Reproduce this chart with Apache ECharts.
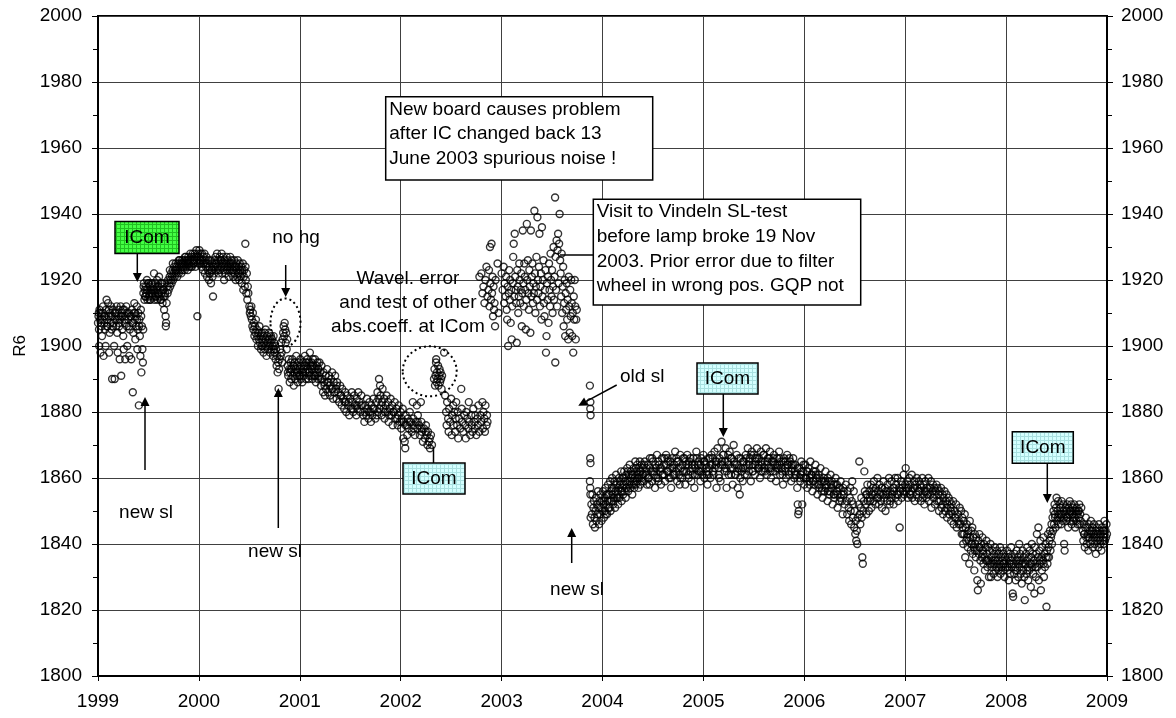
<!DOCTYPE html>
<html>
<head>
<meta charset="utf-8">
<script src="https://cdn.jsdelivr.net/npm/echarts@6/dist/echarts.min.js"></script>
<style>
html, body { margin: 0; padding: 0; background: #fff; }
#chart { width: 1176px; height: 718px; }
</style>
</head>
<body>
<div id="chart"></div>
<script>
// R6 readings, [decimal year, value] flattened, one array per period
var r6_1999a = [1999.00,1907, 1999.005,1909, 1999.01,1905, 1999.012,1900, 1999.015,1911, 1999.02,1908, 1999.025,1898, 1999.03,1910, 1999.035,1906, 1999.04,1903, 1999.045,1908, 1999.05,1912, 1999.055,1897, 1999.06,1909, 1999.065,1907, 1999.07,1905, 1999.075,1900, 1999.08,1911, 1999.085,1914, 1999.09,1908, 1999.095,1906, 1999.10,1913, 1999.105,1909, 1999.11,1898, 1999.115,1904, 1999.12,1910, 1999.125,1907, 1999.13,1912, 1999.135,1905, 1999.14,1890, 1999.145,1909, 1999.15,1911, 1999.155,1907, 1999.16,1900, 1999.165,1890, 1999.17,1908, 1999.175,1910, 1999.18,1906, 1999.185,1912, 1999.19,1904, 1999.195,1898, 1999.20,1909, 1999.205,1911, 1999.21,1906, 1999.215,1896, 1999.22,1908, 1999.225,1912, 1999.23,1891, 1999.235,1910, 1999.24,1905, 1999.245,1909, 1999.25,1903, 1999.255,1899, 1999.26,1911, 1999.265,1907, 1999.27,1896, 1999.275,1909, 1999.28,1912, 1999.285,1906, 1999.29,1900, 1999.30,1908, 1999.305,1910, 1999.31,1897, 1999.315,1905, 1999.32,1909, 1999.33,1896, 1999.335,1911, 1999.34,1907, 1999.345,1886, 1999.35,1904, 1999.355,1910, 1999.36,1913, 1999.365,1908, 1999.37,1902, 1999.375,1909, 1999.38,1906, 1999.385,1912, 1999.39,1899, 1999.395,1905, 1999.40,1910, 1999.405,1882, 1999.41,1908, 1999.415,1903, 1999.42,1897, 1999.425,1911, 1999.43,1892, 1999.435,1906, 1999.44,1899, 1999.445,1895,
  1999.008,1910, 1999.028,1907, 1999.048,1910, 1999.068,1909, 1999.088,1906, 1999.108,1911, 1999.128,1909, 1999.148,1906, 1999.168,1910, 1999.188,1908, 1999.208,1907, 1999.228,1909, 1999.248,1911, 1999.268,1908, 1999.288,1910, 1999.308,1906, 1999.328,1909, 1999.348,1907, 1999.368,1910, 1999.388,1908, 1999.408,1906, 1999.428,1909, 1999.448,1905];
var r6_1999b = [1999.45,1916, 1999.455,1919, 1999.46,1914, 1999.465,1917, 1999.47,1915, 1999.475,1918, 1999.48,1916, 1999.485,1920, 1999.49,1914, 1999.495,1917, 1999.50,1919, 1999.505,1915, 1999.51,1916, 1999.515,1918, 1999.52,1914, 1999.525,1917, 1999.53,1919, 1999.535,1916, 1999.54,1915, 1999.545,1918, 1999.55,1917, 1999.555,1922, 1999.56,1914, 1999.565,1916, 1999.57,1919, 1999.575,1915, 1999.58,1917, 1999.585,1920, 1999.59,1914, 1999.595,1916, 1999.60,1918, 1999.605,1921, 1999.61,1915, 1999.615,1917, 1999.62,1919, 1999.625,1914, 1999.63,1916, 1999.635,1918, 1999.64,1913, 1999.645,1917, 1999.65,1915, 1999.655,1911, 1999.66,1919, 1999.665,1916, 1999.67,1909, 1999.672,1906, 1999.675,1907, 1999.68,1913,
  1999.452,1918, 1999.468,1915, 1999.482,1917, 1999.498,1919, 1999.512,1914, 1999.528,1916, 1999.542,1919, 1999.558,1917, 1999.572,1915, 1999.588,1918, 1999.602,1916, 1999.618,1914, 1999.632,1919, 1999.648,1917, 1999.662,1915];
var r6_1999c = [1999.685,1918, 1999.69,1916, 1999.695,1920, 1999.70,1917, 1999.705,1919, 1999.71,1921, 1999.715,1918, 1999.72,1920, 1999.725,1922, 1999.73,1919, 1999.735,1921, 1999.74,1923, 1999.745,1920, 1999.75,1922, 1999.755,1924, 1999.76,1921, 1999.765,1923, 1999.77,1925, 1999.775,1922, 1999.78,1924, 1999.785,1921, 1999.79,1923, 1999.795,1925, 1999.80,1922, 1999.805,1924, 1999.81,1926, 1999.815,1923, 1999.82,1925, 1999.825,1922, 1999.83,1924, 1999.835,1926, 1999.84,1923, 1999.845,1925, 1999.85,1924, 1999.855,1926, 1999.86,1923, 1999.865,1925, 1999.87,1927, 1999.875,1924, 1999.88,1926, 1999.885,1925, 1999.89,1923, 1999.895,1927, 1999.90,1925, 1999.905,1924, 1999.91,1926, 1999.915,1928, 1999.92,1925, 1999.925,1927, 1999.93,1924, 1999.935,1926, 1999.94,1928, 1999.945,1925, 1999.95,1927, 1999.955,1926, 1999.96,1928, 1999.965,1924, 1999.97,1927, 1999.975,1929, 1999.98,1926, 1999.985,1909, 1999.99,1928, 1999.995,1925,
  1999.712,1923, 1999.742,1925, 1999.772,1923, 1999.802,1926, 1999.832,1925, 1999.862,1927, 1999.892,1926, 1999.922,1924, 1999.952,1925, 1999.982,1927];
var r6_2000a = [2000.00,1927, 2000.005,1929, 2000.01,1925, 2000.015,1928, 2000.02,1926, 2000.025,1924, 2000.03,1928, 2000.035,1926, 2000.04,1923, 2000.045,1927, 2000.05,1925, 2000.055,1928, 2000.06,1922, 2000.065,1926, 2000.07,1924, 2000.075,1927, 2000.08,1921, 2000.085,1925, 2000.09,1923, 2000.095,1926, 2000.10,1920, 2000.105,1924, 2000.11,1922, 2000.115,1926, 2000.12,1919, 2000.125,1923, 2000.13,1925, 2000.135,1921, 2000.14,1915, 2000.145,1924, 2000.15,1922, 2000.155,1926, 2000.16,1924, 2000.165,1927, 2000.17,1923, 2000.175,1925, 2000.18,1928, 2000.185,1924, 2000.19,1926, 2000.195,1922, 2000.20,1925, 2000.205,1927, 2000.21,1923, 2000.215,1926, 2000.22,1924, 2000.225,1928, 2000.23,1922, 2000.235,1925, 2000.24,1927, 2000.245,1923, 2000.25,1920, 2000.255,1926, 2000.26,1924, 2000.265,1922, 2000.27,1925, 2000.275,1927, 2000.28,1923, 2000.285,1926, 2000.29,1924, 2000.295,1921, 2000.30,1925, 2000.305,1923, 2000.31,1927, 2000.315,1924, 2000.32,1922, 2000.325,1926, 2000.33,1923, 2000.335,1925, 2000.34,1921, 2000.345,1924, 2000.35,1926, 2000.355,1922, 2000.36,1924, 2000.365,1920, 2000.37,1925, 2000.375,1923, 2000.38,1921, 2000.385,1926, 2000.39,1922, 2000.395,1924, 2000.40,1920, 2000.405,1925, 2000.41,1923, 2000.415,1921, 2000.42,1924, 2000.425,1919, 2000.43,1922, 2000.435,1925, 2000.44,1917, 2000.445,1921, 2000.45,1923, 2000.455,1918, 2000.46,1931, 2000.465,1920, 2000.47,1916, 2000.475,1922, 2000.48,1914, 2000.485,1918, 2000.49,1916,
  2000.012,1926, 2000.042,1925, 2000.072,1925, 2000.102,1922, 2000.132,1923, 2000.162,1925, 2000.192,1923, 2000.222,1926, 2000.252,1925, 2000.282,1924, 2000.312,1925, 2000.342,1923, 2000.372,1924, 2000.402,1922, 2000.432,1923, 2000.462,1924];
var r6_2000b = [2000.50,1912, 2000.505,1910, 2000.51,1911, 2000.515,1909, 2000.52,1912, 2000.525,1908, 2000.53,1906, 2000.535,1910, 2000.54,1905, 2000.545,1907, 2000.55,1903, 2000.555,1906, 2000.56,1904, 2000.565,1908, 2000.57,1902, 2000.575,1905, 2000.58,1903, 2000.585,1900, 2000.59,1904, 2000.595,1902, 2000.60,1906, 2000.605,1901, 2000.61,1903, 2000.615,1899, 2000.62,1904, 2000.625,1902, 2000.63,1900, 2000.635,1903, 2000.64,1898, 2000.645,1901, 2000.65,1904, 2000.655,1899, 2000.66,1902, 2000.665,1900, 2000.67,1897, 2000.675,1903, 2000.68,1901, 2000.685,1899, 2000.69,1902, 2000.695,1904, 2000.70,1900, 2000.705,1898, 2000.71,1901, 2000.715,1903, 2000.72,1899, 2000.725,1902, 2000.73,1900, 2000.735,1897, 2000.74,1903, 2000.745,1901, 2000.75,1898, 2000.755,1900, 2000.76,1896, 2000.765,1899, 2000.77,1894, 2000.775,1897, 2000.78,1892, 2000.785,1895, 2000.79,1887, 2000.795,1893, 2000.80,1896, 2000.805,1899, 2000.81,1897, 2000.815,1901, 2000.82,1898, 2000.825,1895, 2000.83,1902, 2000.835,1904, 2000.84,1906, 2000.845,1903, 2000.85,1907, 2000.855,1905, 2000.86,1901, 2000.865,1904, 2000.87,1899, 2000.875,1902,
  2000.622,1900, 2000.662,1905, 2000.702,1902, 2000.742,1899];
var r6_2001a = [2000.88,1894, 2000.885,1891, 2000.89,1896, 2000.895,1893, 2000.90,1889, 2000.905,1892, 2000.91,1895, 2000.915,1890, 2000.92,1893, 2000.925,1896, 2000.93,1891, 2000.935,1894, 2000.94,1888, 2000.945,1892, 2000.95,1895, 2000.955,1890, 2000.96,1893, 2000.965,1897, 2000.97,1891, 2000.975,1894, 2000.98,1889, 2000.985,1892, 2000.99,1895, 2000.995,1891, 2001.00,1893, 2001.005,1896, 2001.01,1890, 2001.015,1894, 2001.02,1892, 2001.025,1889, 2001.03,1895, 2001.035,1893, 2001.04,1891, 2001.045,1894, 2001.05,1897, 2001.055,1892, 2001.06,1890, 2001.065,1894, 2001.07,1892, 2001.075,1896, 2001.08,1893, 2001.085,1890, 2001.09,1895, 2001.095,1892, 2001.10,1898, 2001.105,1894, 2001.11,1891, 2001.115,1895, 2001.12,1893, 2001.125,1890, 2001.13,1896, 2001.135,1894, 2001.14,1891, 2001.145,1893, 2001.15,1896, 2001.155,1892, 2001.16,1889, 2001.165,1894, 2001.17,1892, 2001.175,1895, 2001.18,1890, 2001.185,1893, 2001.19,1891, 2001.195,1895,
  2000.882,1892, 2000.912,1893, 2000.942,1894, 2000.972,1892, 2001.002,1891, 2001.032,1892, 2001.062,1895, 2001.092,1891, 2001.122,1894, 2001.152,1891, 2001.182,1893];
var r6_2001b = [2001.20,1892, 2001.21,1888, 2001.215,1894, 2001.22,1890, 2001.23,1886, 2001.235,1892, 2001.24,1889, 2001.25,1885, 2001.255,1891, 2001.26,1887, 2001.27,1893, 2001.275,1889, 2001.28,1886, 2001.29,1891, 2001.295,1888, 2001.30,1885, 2001.31,1890, 2001.315,1887, 2001.32,1892, 2001.33,1884, 2001.335,1889, 2001.34,1886, 2001.35,1891, 2001.36,1887, 2001.365,1884, 2001.37,1889, 2001.38,1886, 2001.39,1883, 2001.40,1888, 2001.41,1885, 2001.415,1882, 2001.42,1887, 2001.43,1884, 2001.44,1881, 2001.45,1886, 2001.455,1883, 2001.46,1880, 2001.47,1885, 2001.48,1882, 2001.49,1879, 2001.50,1884, 2001.51,1881, 2001.515,1886, 2001.52,1883, 2001.53,1880, 2001.54,1885, 2001.55,1882, 2001.56,1879, 2001.565,1884, 2001.57,1881, 2001.58,1886, 2001.59,1883, 2001.60,1880, 2001.61,1885, 2001.62,1882, 2001.63,1879, 2001.64,1877, 2001.65,1882, 2001.66,1879, 2001.665,1884, 2001.67,1881, 2001.68,1878, 2001.69,1883, 2001.70,1880, 2001.705,1877, 2001.71,1882, 2001.72,1879, 2001.73,1884, 2001.74,1881, 2001.75,1878, 2001.76,1883, 2001.77,1886, 2001.775,1880, 2001.78,1884, 2001.785,1890, 2001.79,1881, 2001.795,1888, 2001.80,1885, 2001.81,1879, 2001.815,1883, 2001.82,1887, 2001.83,1881, 2001.835,1884, 2001.84,1878, 2001.85,1882, 2001.86,1885, 2001.87,1880, 2001.875,1883, 2001.88,1877, 2001.89,1881, 2001.90,1884, 2001.91,1879, 2001.915,1882, 2001.92,1876, 2001.93,1880, 2001.94,1883, 2001.95,1878, 2001.96,1881, 2001.97,1876, 2001.975,1879, 2001.98,1882, 2001.99,1877,
  2001.205,1890, 2001.245,1888, 2001.285,1889, 2001.325,1887, 2001.365,1888, 2001.405,1885, 2001.445,1883, 2001.485,1883, 2001.525,1881, 2001.565,1882, 2001.605,1882, 2001.645,1880, 2001.685,1880, 2001.725,1881, 2001.765,1879, 2001.805,1882, 2001.845,1880, 2001.885,1879, 2001.925,1880, 2001.965,1878];
var r6_2002a = [2002.00,1880, 2002.005,1875, 2002.01,1878, 2002.02,1881, 2002.025,1872, 2002.03,1877, 2002.04,1871, 2002.045,1869, 2002.05,1879, 2002.06,1876, 2002.065,1873, 2002.07,1878, 2002.08,1875, 2002.09,1880, 2002.10,1877, 2002.11,1874, 2002.12,1883, 2002.125,1878, 2002.13,1876, 2002.14,1873, 2002.15,1877, 2002.16,1882, 2002.165,1875, 2002.17,1879, 2002.18,1876, 2002.19,1873, 2002.20,1883, 2002.205,1877, 2002.21,1874, 2002.22,1871, 2002.23,1875, 2002.24,1872, 2002.25,1876, 2002.26,1873, 2002.265,1870, 2002.27,1874, 2002.28,1871, 2002.29,1869, 2002.30,1873, 2002.31,1870,
  2002.008,1877, 2002.048,1876, 2002.088,1877, 2002.128,1875, 2002.168,1877, 2002.208,1875, 2002.248,1874, 2002.288,1872];
var r6_2002b = [2002.33,1890, 2002.335,1893, 2002.34,1888, 2002.345,1891, 2002.35,1895, 2002.355,1889, 2002.36,1892, 2002.365,1890, 2002.37,1894, 2002.375,1888, 2002.38,1891, 2002.385,1893, 2002.39,1889, 2002.395,1892, 2002.40,1890, 2002.405,1887, 2002.41,1891, 2002.352,1896, 2002.43,1898];
var r6_2002c = [2002.44,1885, 2002.45,1880, 2002.455,1876, 2002.46,1883, 2002.47,1878, 2002.475,1874, 2002.48,1881, 2002.49,1877, 2002.50,1884, 2002.505,1873, 2002.51,1879, 2002.52,1882, 2002.525,1876, 2002.53,1880, 2002.54,1874, 2002.545,1878, 2002.55,1883, 2002.56,1876, 2002.565,1880, 2002.57,1872, 2002.58,1878, 2002.59,1875, 2002.60,1887, 2002.605,1881, 2002.61,1877, 2002.62,1874, 2002.63,1879, 2002.64,1876, 2002.645,1872, 2002.65,1880, 2002.66,1878, 2002.67,1875, 2002.675,1883, 2002.68,1877, 2002.69,1873, 2002.70,1879, 2002.705,1876, 2002.71,1874, 2002.72,1881, 2002.73,1877, 2002.735,1875, 2002.74,1879, 2002.75,1873, 2002.76,1878, 2002.765,1876, 2002.77,1882, 2002.78,1874, 2002.79,1879, 2002.80,1877, 2002.81,1883, 2002.815,1875, 2002.82,1880, 2002.83,1878, 2002.835,1874, 2002.84,1882, 2002.85,1876, 2002.855,1879, 2002.86,1877];
var r6_2003a = [2002.78,1921, 2002.80,1922, 2002.81,1916, 2002.82,1918, 2002.83,1913, 2002.84,1920, 2002.85,1924, 2002.86,1915, 2002.87,1917, 2002.875,1923, 2002.88,1912, 2002.885,1930, 2002.89,1919, 2002.895,1914, 2002.90,1931, 2002.905,1916, 2002.91,1921, 2002.915,1909, 2002.92,1918, 2002.925,1911, 2002.93,1913, 2002.935,1906, 2002.94,1920, 2002.96,1925, 2002.97,1910, 2003.00,1922, 2003.01,1917, 2003.02,1924, 2003.025,1913, 2003.03,1919, 2003.04,1915, 2003.045,1921, 2003.05,1911, 2003.055,1908, 2003.06,1918, 2003.065,1900, 2003.07,1916, 2003.075,1923, 2003.08,1914, 2003.085,1920, 2003.09,1907, 2003.095,1917, 2003.10,1902, 2003.105,1912, 2003.11,1919, 2003.115,1927, 2003.12,1931, 2003.125,1915, 2003.13,1934, 2003.135,1921, 2003.14,1917, 2003.145,1913, 2003.15,1901, 2003.155,1923, 2003.16,1918, 2003.165,1910, 2003.17,1915, 2003.175,1925, 2003.18,1920, 2003.185,1913, 2003.19,1917, 2003.195,1922, 2003.20,1906, 2003.205,1916, 2003.21,1935, 2003.215,1919, 2003.22,1912, 2003.225,1925, 2003.23,1921, 2003.235,1917, 2003.24,1905, 2003.245,1914, 2003.25,1937, 2003.255,1920, 2003.26,1926, 2003.265,1916, 2003.27,1911, 2003.275,1923, 2003.28,1918, 2003.285,1904, 2003.29,1935, 2003.295,1915, 2003.30,1921, 2003.305,1925, 2003.31,1913, 2003.315,1919, 2003.32,1916, 2003.325,1941, 2003.33,1922, 2003.335,1910, 2003.34,1918, 2003.345,1927, 2003.35,1914, 2003.355,1939, 2003.36,1920, 2003.365,1916, 2003.37,1924, 2003.375,1934, 2003.38,1912, 2003.385,1918, 2003.39,1922, 2003.395,1908, 2003.40,1936, 2003.405,1915, 2003.41,1920, 2003.415,1926, 2003.42,1913, 2003.425,1909, 2003.43,1917, 2003.435,1923, 2003.44,1898, 2003.445,1903, 2003.45,1919, 2003.455,1914, 2003.46,1921, 2003.465,1907, 2003.47,1925, 2003.475,1917, 2003.48,1912, 2003.485,1928, 2003.49,1920, 2003.495,1915, 2003.50,1923, 2003.505,1910, 2003.51,1918, 2003.515,1930, 2003.52,1914, 2003.525,1921, 2003.53,1945, 2003.532,1895, 2003.535,1927, 2003.54,1917, 2003.545,1932, 2003.55,1912, 2003.555,1929, 2003.56,1934, 2003.565,1919, 2003.57,1931, 2003.575,1940, 2003.58,1926, 2003.585,1922, 2003.59,1915, 2003.595,1928, 2003.60,1910, 2003.605,1918, 2003.61,1924, 2003.615,1906, 2003.62,1913, 2003.625,1920, 2003.63,1903, 2003.635,1916, 2003.64,1911, 2003.645,1919, 2003.65,1908, 2003.655,1914, 2003.66,1902, 2003.665,1921, 2003.67,1912, 2003.675,1904, 2003.68,1917, 2003.685,1909, 2003.69,1920, 2003.695,1913, 2003.70,1903, 2003.705,1910, 2003.71,1898, 2003.715,1915, 2003.72,1908, 2003.725,1920, 2003.73,1912, 2003.735,1902, 2003.74,1908, 2003.745,1911];
var r6_2003b = [2003.875,1888, 2003.88,1883, 2003.879,1881, 2003.882,1879, 2003.878,1866, 2003.881,1864.5, 2003.875,1859, 2003.878,1857, 2003.88,1855, 2003.882,1848];
var r6_2004a = [2003.89,1852, 2003.895,1849, 2003.90,1855, 2003.905,1846, 2003.91,1851, 2003.915,1853, 2003.92,1848, 2003.925,1845, 2003.93,1850, 2003.935,1854, 2003.94,1847, 2003.945,1852, 2003.95,1849, 2003.955,1856, 2003.96,1851, 2003.965,1846, 2003.97,1853, 2003.975,1849, 2003.98,1855, 2003.985,1851, 2003.99,1847, 2003.995,1853, 2004.00,1850, 2004.005,1856, 2004.01,1852, 2004.015,1848, 2004.02,1854, 2004.025,1850, 2004.03,1857, 2004.035,1852, 2004.04,1855, 2004.045,1849, 2004.05,1853, 2004.055,1858, 2004.06,1851, 2004.065,1855, 2004.07,1853, 2004.075,1859, 2004.08,1850, 2004.085,1856, 2004.09,1853, 2004.095,1860, 2004.10,1855, 2004.105,1852, 2004.11,1857, 2004.115,1854, 2004.12,1859, 2004.125,1851, 2004.13,1856, 2004.135,1861, 2004.14,1854, 2004.145,1858, 2004.15,1855, 2004.155,1852, 2004.16,1857, 2004.165,1860, 2004.17,1854, 2004.175,1858, 2004.18,1856, 2004.185,1862, 2004.19,1853, 2004.195,1857, 2004.20,1860, 2004.205,1855, 2004.21,1858, 2004.215,1862, 2004.22,1856, 2004.225,1859, 2004.23,1854, 2004.235,1861, 2004.24,1857, 2004.245,1863, 2004.25,1859, 2004.255,1856, 2004.26,1861, 2004.265,1858, 2004.27,1864, 2004.275,1857, 2004.28,1860, 2004.285,1862, 2004.29,1858, 2004.295,1855, 2004.30,1861, 2004.305,1859, 2004.31,1863, 2004.315,1857, 2004.32,1860, 2004.325,1865, 2004.33,1858, 2004.335,1862, 2004.34,1859, 2004.345,1864, 2004.35,1861, 2004.355,1857, 2004.36,1863, 2004.365,1860, 2004.37,1865, 2004.375,1858, 2004.38,1862, 2004.385,1860, 2004.39,1864, 2004.395,1861,
  2004.012,1853, 2004.032,1849, 2004.052,1855, 2004.072,1851, 2004.092,1857, 2004.112,1853, 2004.132,1858, 2004.152,1854, 2004.172,1859, 2004.192,1856, 2004.212,1860, 2004.232,1857, 2004.252,1862, 2004.272,1859, 2004.292,1861, 2004.312,1858, 2004.332,1863, 2004.352,1860, 2004.372,1862, 2004.392,1859];
var r6_2004b = [2004.40,1863, 2004.41,1859, 2004.42,1865, 2004.43,1861, 2004.44,1858, 2004.45,1864, 2004.46,1860, 2004.47,1866, 2004.48,1862, 2004.49,1859, 2004.50,1865, 2004.51,1861, 2004.52,1857, 2004.53,1863, 2004.54,1867, 2004.55,1860, 2004.56,1864, 2004.57,1862, 2004.58,1858, 2004.59,1866, 2004.60,1861, 2004.61,1864, 2004.62,1859, 2004.63,1867, 2004.64,1862, 2004.65,1865, 2004.66,1860, 2004.67,1863, 2004.68,1857, 2004.69,1866, 2004.70,1861, 2004.71,1864, 2004.72,1868, 2004.73,1862, 2004.74,1859, 2004.75,1865, 2004.76,1861, 2004.77,1867, 2004.78,1863, 2004.79,1860, 2004.80,1866, 2004.81,1862, 2004.82,1858, 2004.83,1864, 2004.84,1867, 2004.85,1861, 2004.86,1865, 2004.87,1862, 2004.88,1859, 2004.89,1864, 2004.90,1866, 2004.91,1857, 2004.92,1863, 2004.93,1868, 2004.94,1861, 2004.95,1865, 2004.96,1862, 2004.97,1859, 2004.98,1866, 2004.99,1863,
  2004.405,1861, 2004.435,1863, 2004.465,1858, 2004.495,1862, 2004.525,1864, 2004.555,1859, 2004.585,1863, 2004.615,1861, 2004.645,1866, 2004.675,1860, 2004.705,1863, 2004.735,1865, 2004.765,1858, 2004.795,1862, 2004.825,1865, 2004.855,1860, 2004.885,1863, 2004.915,1861, 2004.945,1864, 2004.975,1862,
  2004.412,1864, 2004.432,1862, 2004.452,1860, 2004.472,1863, 2004.492,1866, 2004.512,1862, 2004.532,1860, 2004.552,1865, 2004.572,1863, 2004.592,1861, 2004.612,1866, 2004.632,1864, 2004.652,1862, 2004.672,1865, 2004.692,1863, 2004.712,1861, 2004.732,1866, 2004.752,1863, 2004.772,1860, 2004.792,1864, 2004.812,1866, 2004.832,1862, 2004.852,1864, 2004.872,1866, 2004.892,1861, 2004.912,1864, 2004.932,1866, 2004.952,1862, 2004.972,1864, 2004.992,1861];
var r6_2005 = [2005.00,1867, 2005.01,1860, 2005.02,1864, 2005.03,1862, 2005.04,1858, 2005.05,1866, 2005.06,1863, 2005.07,1860, 2005.08,1867, 2005.09,1864, 2005.10,1861, 2005.11,1868, 2005.12,1865, 2005.13,1857, 2005.14,1869, 2005.15,1863, 2005.16,1866, 2005.17,1859, 2005.18,1871, 2005.19,1864, 2005.20,1867, 2005.21,1862, 2005.22,1869, 2005.23,1857, 2005.24,1865, 2005.25,1861, 2005.26,1868, 2005.27,1863, 2005.28,1866, 2005.29,1858, 2005.30,1870, 2005.31,1864, 2005.32,1861, 2005.33,1867, 2005.34,1857, 2005.35,1863, 2005.36,1855, 2005.37,1866, 2005.38,1862, 2005.39,1859, 2005.40,1865, 2005.41,1861, 2005.42,1867, 2005.43,1864, 2005.44,1869, 2005.45,1862, 2005.46,1866, 2005.47,1859, 2005.48,1868, 2005.49,1864, 2005.50,1867, 2005.51,1861, 2005.52,1865, 2005.53,1869, 2005.54,1863, 2005.55,1866, 2005.56,1860, 2005.57,1868, 2005.58,1864, 2005.59,1862, 2005.60,1867, 2005.61,1865, 2005.62,1869, 2005.63,1861, 2005.64,1866, 2005.65,1863, 2005.66,1868, 2005.67,1860, 2005.68,1865, 2005.69,1862, 2005.70,1867, 2005.71,1864, 2005.72,1859, 2005.73,1866, 2005.74,1863, 2005.75,1868, 2005.76,1861, 2005.77,1865, 2005.78,1862, 2005.79,1858, 2005.80,1866, 2005.81,1863, 2005.82,1860, 2005.83,1867, 2005.84,1864, 2005.85,1861, 2005.86,1865, 2005.87,1859, 2005.88,1863, 2005.89,1866, 2005.90,1860, 2005.91,1864, 2005.92,1861, 2005.93,1857, 2005.935,1852, 2005.94,1849, 2005.945,1850, 2005.95,1863, 2005.96,1859, 2005.97,1865, 2005.98,1852, 2005.99,1862,
  2005.005,1865, 2005.035,1861, 2005.065,1866, 2005.095,1862, 2005.125,1864, 2005.155,1860, 2005.185,1865, 2005.215,1863, 2005.245,1867, 2005.275,1861, 2005.305,1865, 2005.335,1862, 2005.365,1860, 2005.395,1863, 2005.425,1866, 2005.455,1864, 2005.485,1862, 2005.515,1866, 2005.545,1864, 2005.575,1862, 2005.605,1863, 2005.635,1865, 2005.665,1862, 2005.695,1866, 2005.725,1863, 2005.755,1864, 2005.785,1861, 2005.815,1865, 2005.845,1862, 2005.875,1864, 2005.905,1862, 2005.965,1861, 2005.995,1860,
  2005.012,1865, 2005.032,1863, 2005.052,1861, 2005.072,1864, 2005.092,1866, 2005.112,1863, 2005.132,1865, 2005.152,1861, 2005.172,1864, 2005.192,1867, 2005.212,1865, 2005.232,1862, 2005.252,1864, 2005.272,1866, 2005.292,1863, 2005.312,1861, 2005.332,1864, 2005.352,1866, 2005.372,1863, 2005.392,1865, 2005.412,1863, 2005.432,1861, 2005.452,1865, 2005.472,1867, 2005.492,1862, 2005.512,1864, 2005.532,1866, 2005.552,1863, 2005.572,1865, 2005.592,1867, 2005.612,1862, 2005.632,1864, 2005.652,1866, 2005.672,1863, 2005.692,1865, 2005.712,1862, 2005.732,1864, 2005.752,1866, 2005.772,1863, 2005.792,1865, 2005.812,1862, 2005.832,1864, 2005.852,1866, 2005.872,1862, 2005.892,1864, 2005.912,1861, 2005.932,1863, 2005.952,1860, 2005.972,1862, 2005.992,1864];
var r6_2006a = [2006.00,1858, 2006.01,1864, 2006.02,1860, 2006.03,1857, 2006.04,1863, 2006.05,1859, 2006.06,1865, 2006.07,1861, 2006.08,1856, 2006.09,1862, 2006.10,1858, 2006.11,1864, 2006.12,1860, 2006.13,1855, 2006.14,1861, 2006.15,1857, 2006.16,1863, 2006.17,1859, 2006.18,1854, 2006.19,1860, 2006.20,1856, 2006.21,1862, 2006.22,1858, 2006.23,1853, 2006.24,1859, 2006.25,1855, 2006.26,1861, 2006.27,1857, 2006.28,1852, 2006.29,1858, 2006.30,1854, 2006.31,1860, 2006.32,1856, 2006.33,1851, 2006.34,1857, 2006.35,1853, 2006.36,1859, 2006.37,1855, 2006.38,1849, 2006.39,1856, 2006.40,1852,
  2006.025,1862, 2006.055,1860, 2006.085,1859, 2006.115,1861, 2006.145,1858, 2006.175,1857, 2006.205,1859, 2006.235,1856, 2006.265,1858, 2006.295,1855, 2006.325,1858, 2006.355,1854, 2006.385,1857,
  2006.012,1860, 2006.032,1862, 2006.052,1858, 2006.072,1861, 2006.092,1859, 2006.112,1862, 2006.132,1858, 2006.152,1860, 2006.172,1856, 2006.192,1859, 2006.212,1857, 2006.232,1860, 2006.252,1856, 2006.272,1859, 2006.292,1855, 2006.312,1858, 2006.332,1855, 2006.352,1857, 2006.372,1853, 2006.392,1855];
var r6_2006b = [2006.41,1858, 2006.42,1853, 2006.425,1849, 2006.43,1856, 2006.44,1851, 2006.445,1847, 2006.45,1854, 2006.455,1857, 2006.46,1850, 2006.465,1846, 2006.47,1853, 2006.475,1859, 2006.48,1848, 2006.485,1852, 2006.49,1856, 2006.495,1845, 2006.50,1850, 2006.505,1843, 2006.51,1847, 2006.515,1841, 2006.52,1844, 2006.525,1840, 2006.53,1848, 2006.54,1852, 2006.545,1865, 2006.55,1849, 2006.555,1846, 2006.56,1851, 2006.565,1854, 2006.57,1848, 2006.575,1836, 2006.58,1834, 2006.585,1850, 2006.59,1853, 2006.595,1862, 2006.60,1856, 2006.61,1852, 2006.615,1849, 2006.62,1855, 2006.625,1858, 2006.63,1853, 2006.64,1850, 2006.645,1856, 2006.65,1854, 2006.66,1858, 2006.665,1851, 2006.67,1855, 2006.68,1857, 2006.685,1853, 2006.69,1859, 2006.70,1855, 2006.705,1852, 2006.71,1857, 2006.72,1854, 2006.725,1860, 2006.73,1856, 2006.74,1852, 2006.745,1858, 2006.75,1855, 2006.76,1853, 2006.765,1857, 2006.77,1851, 2006.78,1855, 2006.785,1859, 2006.79,1854, 2006.80,1857, 2006.805,1850, 2006.81,1856, 2006.82,1853, 2006.825,1858, 2006.83,1855, 2006.84,1860, 2006.845,1852, 2006.85,1856, 2006.86,1854, 2006.865,1859, 2006.87,1855, 2006.88,1857, 2006.885,1852, 2006.89,1856, 2006.90,1860, 2006.905,1854, 2006.91,1858, 2006.92,1855, 2006.925,1860, 2006.93,1853, 2006.94,1857, 2006.945,1845, 2006.95,1856, 2006.96,1859, 2006.965,1854, 2006.97,1858, 2006.98,1856, 2006.985,1861, 2006.99,1855,
  2006.612,1855, 2006.652,1853, 2006.692,1856, 2006.732,1854, 2006.772,1857, 2006.812,1855, 2006.852,1853, 2006.892,1857, 2006.932,1855, 2006.972,1857];
var r6_2007a = [2007.00,1858, 2007.005,1863, 2007.01,1856, 2007.02,1859, 2007.025,1854, 2007.03,1857, 2007.04,1860, 2007.045,1855, 2007.05,1858, 2007.06,1856, 2007.065,1861, 2007.07,1854, 2007.08,1857, 2007.09,1859, 2007.095,1853, 2007.10,1858, 2007.11,1855, 2007.115,1860, 2007.12,1857, 2007.13,1854, 2007.135,1859, 2007.14,1856, 2007.15,1858, 2007.155,1853, 2007.16,1857, 2007.17,1860, 2007.175,1855, 2007.18,1858, 2007.19,1852, 2007.195,1856, 2007.20,1859, 2007.21,1854, 2007.215,1857, 2007.22,1855, 2007.23,1860, 2007.235,1853, 2007.24,1857, 2007.25,1855, 2007.255,1859, 2007.26,1851, 2007.27,1856, 2007.275,1858, 2007.28,1854, 2007.29,1857, 2007.295,1852, 2007.30,1856, 2007.31,1858, 2007.315,1853, 2007.32,1857, 2007.33,1855, 2007.335,1850, 2007.34,1856, 2007.35,1853, 2007.355,1857, 2007.36,1851, 2007.37,1855, 2007.375,1849, 2007.38,1854, 2007.39,1856, 2007.395,1850, 2007.40,1853, 2007.41,1855, 2007.415,1848, 2007.42,1852, 2007.43,1854, 2007.435,1849, 2007.44,1853, 2007.45,1851, 2007.455,1847, 2007.46,1852, 2007.47,1849, 2007.475,1853, 2007.48,1846, 2007.49,1850, 2007.50,1848, 2007.505,1852, 2007.51,1845, 2007.52,1849, 2007.53,1847, 2007.54,1851,
  2007.012,1857, 2007.052,1855, 2007.092,1857, 2007.132,1856, 2007.172,1854, 2007.212,1856, 2007.252,1857, 2007.292,1855, 2007.332,1853, 2007.372,1852, 2007.412,1851, 2007.452,1850, 2007.492,1848, 2007.532,1846];
var r6_2007b = [2007.55,1846, 2007.555,1850, 2007.56,1843, 2007.565,1848, 2007.57,1845, 2007.575,1840, 2007.58,1847, 2007.585,1843, 2007.59,1849, 2007.595,1836, 2007.60,1845, 2007.605,1841, 2007.61,1846, 2007.615,1843, 2007.62,1839, 2007.625,1844, 2007.63,1841, 2007.635,1834, 2007.64,1847, 2007.645,1842, 2007.65,1838, 2007.655,1844, 2007.66,1840, 2007.665,1845, 2007.67,1837, 2007.675,1842, 2007.68,1839, 2007.685,1832, 2007.69,1843, 2007.695,1840, 2007.70,1836, 2007.705,1842, 2007.71,1838, 2007.715,1829, 2007.72,1826, 2007.725,1841, 2007.73,1837, 2007.735,1843, 2007.74,1839, 2007.745,1835, 2007.75,1828, 2007.755,1840, 2007.76,1836, 2007.765,1842, 2007.77,1838, 2007.775,1834, 2007.78,1840, 2007.785,1836, 2007.79,1832, 2007.795,1839, 2007.80,1835, 2007.805,1841, 2007.81,1837, 2007.815,1833, 2007.82,1839, 2007.825,1835, 2007.83,1830, 2007.835,1838, 2007.84,1834, 2007.845,1840, 2007.85,1830, 2007.855,1836, 2007.86,1833, 2007.865,1838, 2007.87,1835, 2007.875,1831, 2007.88,1837, 2007.885,1834, 2007.89,1839, 2007.895,1832, 2007.90,1836, 2007.905,1833, 2007.91,1838, 2007.915,1830, 2007.92,1835, 2007.925,1832, 2007.93,1837, 2007.935,1834, 2007.94,1839, 2007.945,1831, 2007.95,1836, 2007.955,1833, 2007.96,1838, 2007.965,1835, 2007.97,1832, 2007.975,1837, 2007.98,1834, 2007.985,1830, 2007.99,1836, 2007.995,1833,
  2007.572,1843, 2007.612,1842, 2007.652,1840, 2007.692,1838, 2007.732,1839, 2007.772,1837, 2007.812,1835, 2007.852,1834, 2007.892,1835, 2007.932,1833, 2007.972,1834];
var r6_2008a = [2008.00,1835, 2008.01,1838, 2008.015,1832, 2008.02,1836, 2008.025,1829, 2008.03,1834, 2008.035,1837, 2008.04,1831, 2008.045,1835, 2008.05,1839, 2008.055,1833, 2008.06,1836, 2008.065,1825, 2008.07,1824, 2008.075,1834, 2008.08,1831, 2008.085,1837, 2008.09,1833, 2008.095,1829, 2008.10,1835, 2008.105,1838, 2008.11,1832, 2008.115,1836, 2008.12,1830, 2008.125,1834, 2008.13,1840, 2008.135,1833, 2008.14,1837, 2008.145,1831, 2008.15,1835, 2008.155,1828, 2008.16,1834, 2008.165,1838, 2008.17,1832, 2008.175,1836, 2008.18,1830, 2008.185,1823, 2008.19,1834, 2008.195,1837, 2008.20,1831, 2008.205,1835, 2008.21,1839, 2008.215,1833, 2008.22,1829, 2008.225,1836, 2008.23,1832, 2008.235,1838, 2008.24,1834, 2008.245,1827, 2008.25,1836, 2008.255,1840, 2008.26,1833, 2008.265,1837, 2008.27,1831, 2008.275,1835, 2008.28,1825, 2008.285,1839, 2008.29,1834, 2008.295,1830, 2008.30,1837, 2008.305,1843, 2008.31,1833, 2008.315,1836, 2008.32,1845, 2008.325,1829, 2008.33,1838, 2008.335,1834, 2008.34,1841, 2008.345,1826, 2008.35,1836, 2008.355,1832, 2008.36,1839, 2008.365,1835, 2008.37,1842, 2008.375,1830, 2008.38,1837, 2008.385,1833, 2008.39,1840, 2008.395,1836, 2008.40,1821, 2008.405,1838, 2008.41,1834, 2008.415,1843, 2008.42,1839, 2008.425,1836, 2008.43,1841, 2008.435,1844, 2008.44,1838, 2008.445,1842, 2008.45,1846, 2008.455,1840,
  2008.012,1833, 2008.052,1834, 2008.092,1832, 2008.132,1835, 2008.172,1834, 2008.212,1832, 2008.252,1834, 2008.292,1833, 2008.332,1835, 2008.372,1834, 2008.412,1836, 2008.452,1843];
var r6_2008b = [2008.46,1848, 2008.465,1844, 2008.47,1850, 2008.475,1846, 2008.48,1852, 2008.485,1848, 2008.49,1845, 2008.495,1851, 2008.50,1854, 2008.505,1847, 2008.51,1850, 2008.515,1853, 2008.52,1846, 2008.525,1849, 2008.53,1852, 2008.535,1848, 2008.54,1851, 2008.545,1846, 2008.55,1853, 2008.555,1849, 2008.56,1847, 2008.565,1852, 2008.57,1850, 2008.575,1840, 2008.58,1838, 2008.585,1849, 2008.59,1851, 2008.595,1847, 2008.60,1850, 2008.605,1852, 2008.61,1848, 2008.615,1845, 2008.62,1851, 2008.625,1849, 2008.63,1853, 2008.635,1847, 2008.64,1850, 2008.645,1852, 2008.65,1846, 2008.655,1849, 2008.66,1851, 2008.665,1847, 2008.67,1850, 2008.675,1852, 2008.68,1848, 2008.685,1845, 2008.69,1850, 2008.695,1847, 2008.70,1851, 2008.705,1849, 2008.71,1846, 2008.715,1850, 2008.72,1848, 2008.725,1852, 2008.73,1846, 2008.735,1849, 2008.74,1847, 2008.745,1851, 2008.76,1844, 2008.765,1841, 2008.77,1846, 2008.775,1843, 2008.78,1839, 2008.785,1845, 2008.79,1848, 2008.795,1842, 2008.80,1840, 2008.805,1845, 2008.81,1843, 2008.815,1838, 2008.82,1846, 2008.825,1842, 2008.83,1844, 2008.835,1840, 2008.84,1847, 2008.845,1843, 2008.85,1841, 2008.855,1845, 2008.86,1839, 2008.865,1843, 2008.87,1846, 2008.875,1842, 2008.88,1840, 2008.885,1844, 2008.89,1837, 2008.895,1842, 2008.90,1845, 2008.905,1841, 2008.91,1843, 2008.915,1839, 2008.92,1846, 2008.925,1842, 2008.93,1844, 2008.935,1840, 2008.94,1843, 2008.945,1838, 2008.95,1845, 2008.955,1841, 2008.96,1844, 2008.965,1840, 2008.97,1843, 2008.975,1847, 2008.98,1841, 2008.985,1844, 2008.99,1842, 2008.995,1846, 2009.00,1843,
  2008.482,1849, 2008.512,1848, 2008.542,1849, 2008.572,1848, 2008.602,1848, 2008.632,1850, 2008.662,1848, 2008.692,1849, 2008.722,1850, 2008.772,1843, 2008.812,1842, 2008.852,1844, 2008.892,1843, 2008.932,1841, 2008.972,1844];

var yearTicks = [1999, 2000, 2001, 2002, 2003, 2004, 2005, 2006, 2007, 2008, 2009];
var yTickLabels = [1800, 1820, 1840, 1860, 1880, 1900, 1920, 1940, 1960, 1980, 2000];

var allParts = [r6_1999a, r6_1999b, r6_1999c, r6_2000a, r6_2000b, r6_2001a, r6_2001b,
  r6_2002a, r6_2002b, r6_2002c, r6_2003a, r6_2003b, r6_2004a, r6_2004b, r6_2005,
  r6_2006a, r6_2006b, r6_2007a, r6_2007b, r6_2008a, r6_2008b];

var points = [];
allParts.forEach(function (arr) {
  for (var i = 0; i < arr.length; i += 2) points.push([arr[i], arr[i + 1]]);
});

var FONT = 'Liberation Sans, Arial, sans-serif';

function patternCanvas(bg, line) {
  var c = document.createElement('canvas');
  c.width = 4; c.height = 4;
  var g = c.getContext('2d');
  g.fillStyle = bg; g.fillRect(0, 0, 4, 4);
  g.fillStyle = line; g.fillRect(0, 0, 4, 1); g.fillRect(0, 0, 1, 4);
  return c;
}
var greenFill = { image: patternCanvas('#44ff44', '#22c022'), repeat: 'repeat' };
var cyanFill = { image: patternCanvas('#d4ffff', '#a8e0e0'), repeat: 'repeat' };

function arrow(x1, y1, x2, y2) {
  var dx = x2 - x1, dy = y2 - y1;
  var len = Math.sqrt(dx * dx + dy * dy);
  var ux = dx / len, uy = dy / len;
  var hl = 9, hw = 4.5;
  var bx = x2 - ux * hl, by = y2 - uy * hl;
  return [
    { type: 'line', z: 100, shape: { x1: x1, y1: y1, x2: bx, y2: by }, style: { stroke: '#000', lineWidth: 1.5 } },
    { type: 'polygon', z: 100, shape: { points: [[x2, y2], [bx - uy * hw, by + ux * hw], [bx + uy * hw, by - ux * hw]] }, style: { fill: '#000' } }
  ];
}

function label(x, y, txt, align) {
  return { type: 'text', z: 101, x: x, y: y,
    style: { text: txt, font: '19px ' + FONT, fill: '#000', align: align || 'center', verticalAlign: 'middle' } };
}

function box(x, y, w, h, fill) {
  return { type: 'rect', z: 100, shape: { x: x, y: y, width: w, height: h },
    style: { fill: fill, stroke: '#000', lineWidth: 1.5 } };
}

function ellipse(cx, cy, rx, ry) {
  return { type: 'ellipse', z: 100, shape: { cx: cx, cy: cy, rx: rx, ry: ry },
    style: { fill: null, stroke: '#000', lineWidth: 2, lineDash: [2, 3] } };
}

var graphics = [].concat(
  // ICom (green)
  [box(115, 221.5, 64, 32, greenFill), label(147, 238, 'ICom')],
  arrow(137.3, 254, 137.3, 282),
  // no hg
  [label(296, 238, 'no hg'), ellipse(285.5, 322.5, 15, 24)],
  arrow(285.7, 265, 285.7, 297),
  // wavelength note
  [label(408, 279, 'Wavel. error'), label(408, 303, 'and test of other'), label(408, 327, 'abs.coeff. at ICom'),
   ellipse(429.7, 371.3, 27, 25)],
  // ICom 2002
  [{ type: 'line', z: 100, shape: { x1: 433.5, y1: 447, x2: 433.5, y2: 463 }, style: { stroke: '#000', lineWidth: 1.5 } },
   box(403, 463, 62, 31, cyanFill), label(434, 479, 'ICom')],
  // new sl
  [label(146, 513, 'new sl')], arrow(145, 470, 145, 397),
  [label(275, 552, 'new sl')], arrow(278.3, 528, 278.3, 388),
  [label(577, 590, 'new sl')], arrow(571.7, 563, 571.7, 528),
  // old sl
  [label(620, 377, 'old sl', 'left')], arrow(616.7, 385, 578.3, 405.7),
  // ICom 2005
  [box(697, 363, 61, 31, cyanFill), label(727.5, 379, 'ICom')],
  arrow(723.3, 394, 723.3, 437),
  // ICom 2008
  [box(1012.3, 431.7, 61, 31.6, cyanFill), label(1042.8, 448, 'ICom')],
  arrow(1047.3, 463.3, 1047.3, 503),
  // New board box
  [box(385.7, 96.7, 267, 83.3, '#fff'),
   label(389.3, 109.3, 'New board causes problem', 'left'),
   label(389.3, 133.8, 'after IC changed back 13', 'left'),
   label(389.3, 158.3, 'June 2003 spurious noise !', 'left')],
  // Vindeln box
  [{ type: 'line', z: 100, shape: { x1: 560, y1: 255, x2: 593.3, y2: 255 }, style: { stroke: '#000', lineWidth: 1.5 } },
   box(593.3, 199.3, 267.4, 105.7, '#fff'),
   label(596.7, 211.7, 'Visit to Vindeln SL-test', 'left'),
   label(596.7, 236.7, 'before lamp broke 19 Nov', 'left'),
   label(596.7, 261.7, '2003. Prior error due to filter', 'left'),
   label(596.7, 286.2, 'wheel in wrong pos. GQP not', 'left')]
);

var axisText = { color: '#000', fontSize: 19, fontFamily: FONT };

var yAxisBase = function (pos, margin) {
  return {
    type: 'value', position: pos, min: 1800, max: 2000, interval: 20,
    axisLine: { show: true, lineStyle: { color: '#000', width: 2 } },
    axisTick: { show: true, length: 6, lineStyle: { color: '#000', width: 1 } },
    minorTick: { show: true, splitNumber: 2, length: 5, lineStyle: { color: '#000', width: 1 } },
    axisLabel: Object.assign({ margin: margin, formatter: function (v) { return yTickLabels.indexOf(v) >= 0 ? String(v) : ''; } }, axisText),
    splitLine: { show: pos === 'left', lineStyle: { color: '#404040', width: 1 } }
  };
};

var leftAxis = yAxisBase('left', 16);
leftAxis.name = 'R6';
leftAxis.nameLocation = 'middle';
leftAxis.nameRotate = 90;
leftAxis.nameGap = 64;
leftAxis.nameTextStyle = { color: '#000', fontSize: 17, fontFamily: FONT };

var chart = echarts.init(document.getElementById('chart'), null, { renderer: 'canvas' });
chart.setOption({
  animation: false,
  backgroundColor: '#fff',
  grid: { left: 98, right: 69, top: 16, bottom: 42, show: true, borderColor: '#000', borderWidth: 2, backgroundColor: 'transparent' },
  xAxis: {
    type: 'value', min: yearTicks[0], max: yearTicks[yearTicks.length - 1], interval: 1,
    axisLine: { show: true, onZero: false, lineStyle: { color: '#000', width: 2 } },
    axisTick: { show: true, length: 5, lineStyle: { color: '#000', width: 1 } },
    axisLabel: Object.assign({ margin: 16, formatter: function (v) { return String(v); } }, axisText),
    splitLine: { show: true, lineStyle: { color: '#404040', width: 1 } }
  },
  yAxis: [leftAxis, yAxisBase('right', 14)],
  series: [{
    type: 'scatter',
    data: points,
    symbol: 'circle',
    symbolSize: 7,
    itemStyle: { color: 'rgba(0,0,0,0)', borderColor: '#000', borderWidth: 1.4 },
    emphasis: { disabled: true },
    z: 5
  }],
  graphic: graphics
});
</script>
</body>
</html>
